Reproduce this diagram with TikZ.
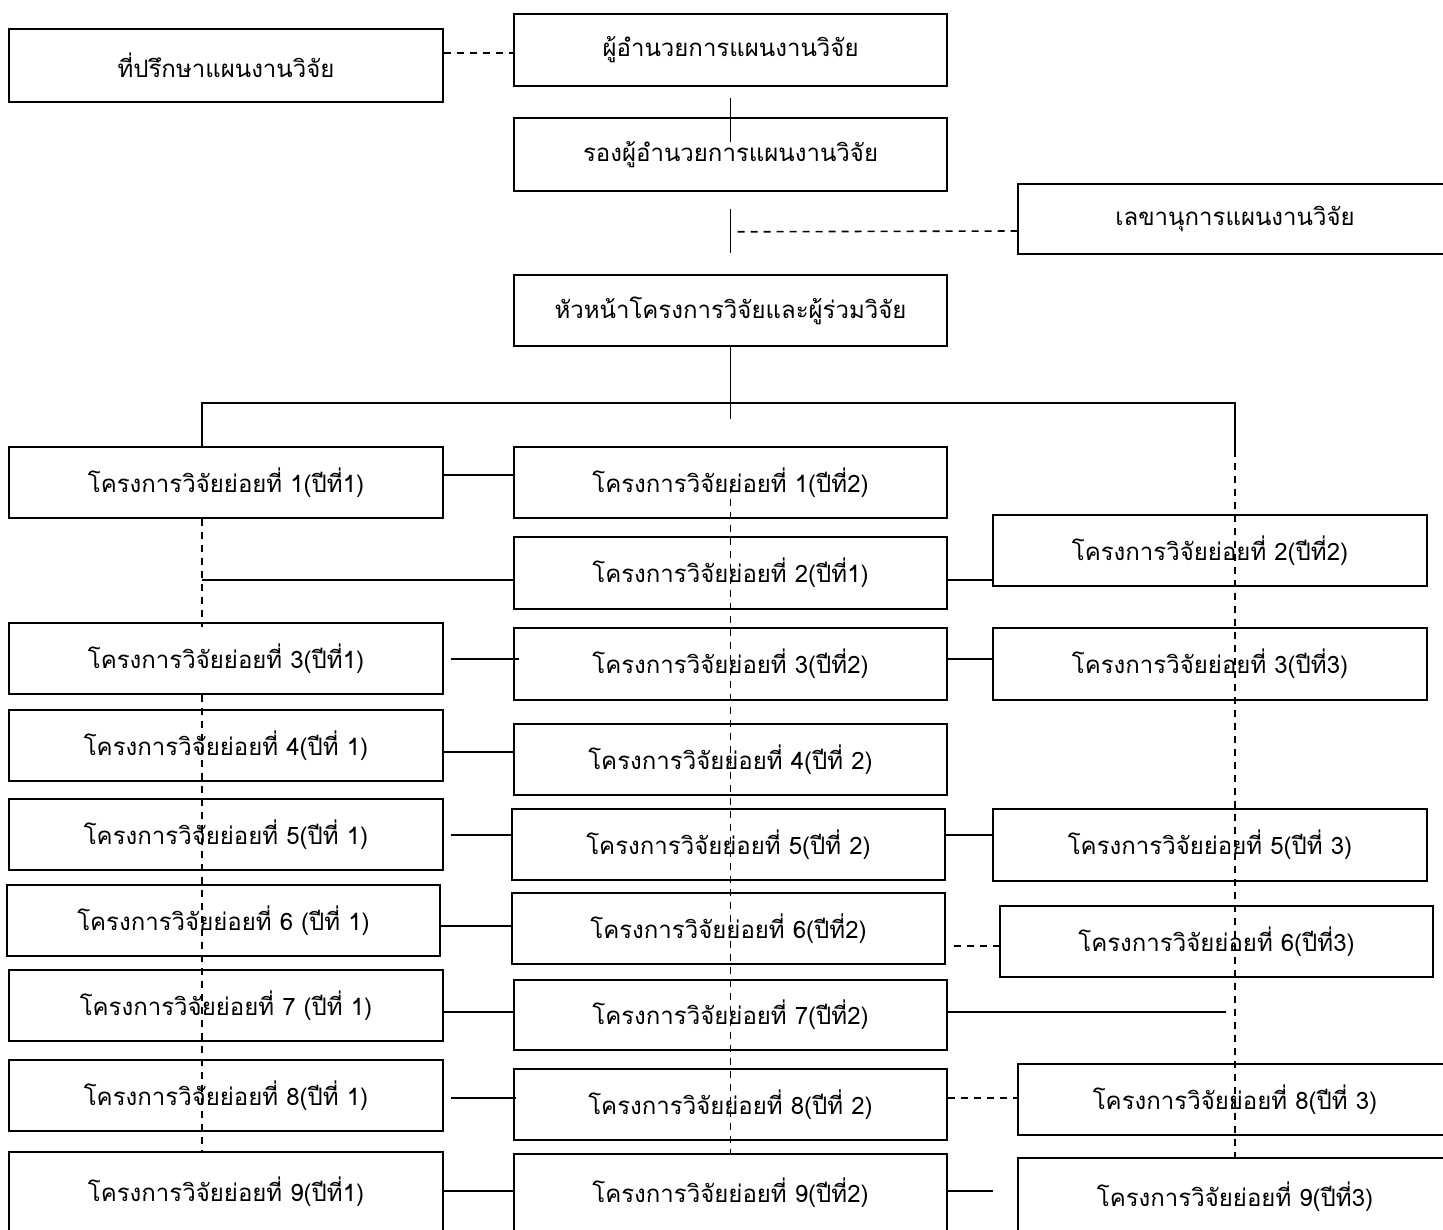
\documentclass[tikz,border=0pt]{standalone}
\usepackage{fontspec}
\newfontfamily\thaifont[Script=Thai]{Loma}
\usetikzlibrary{calc}
\tikzset{
  box/.style={draw, line width=1.6pt, fill=white, inner sep=0pt, minimum width=433pt, minimum height=71pt, font=\thaifont\fontsize{24}{28}\selectfont},
  conn/.style={line width=1.6pt},
  dconn/.style={line width=1.6pt, dash pattern=on 7pt off 6pt},
}
\begin{document}
\begin{tikzpicture}[x=1pt,y=-1pt]
\useasboundingbox (0,0) rectangle (1443,1230);
% top part
\node[box, minimum width=434pt, minimum height=73pt] (A) at (226,65.5) {ที่ปรึกษาแผนงานวิจัย};
\node[box, minimum height=72pt] (B) at (730.5,50) {ผู้อำนวยการแผนงานวิจัย};
\node[box, minimum height=73pt] (C) at (730.5,154.5) {รองผู้อำนวยการแผนงานวิจัย};
\node[box, minimum width=434pt, minimum height=70pt] (D) at (1235,219) {เลขานุการแผนงานวิจัย};
\node[box] (E) at (730.5,310.5) {หัวหน้าโครงการวิจัยและผู้ร่วมวิจัย};
% column 1
\node[box, minimum width=434pt] (P11) at (226,482.5) {โครงการวิจัยย่อยที่ 1(ปีที่1)};
\node[box, minimum width=434pt] (P31) at (226,658.5) {โครงการวิจัยย่อยที่ 3(ปีที่1)};
\node[box, minimum width=434pt] (P41) at (226,745.5) {โครงการวิจัยย่อยที่ 4(ปีที่ 1)};
\node[box, minimum width=434pt] (P51) at (226,834.5) {โครงการวิจัยย่อยที่ 5(ปีที่ 1)};
\node[box, minimum width=433pt] (P61) at (223.5,920.5) {โครงการวิจัยย่อยที่ 6 (ปีที่ 1)};
\node[box, minimum width=434pt] (P71) at (226,1005.5) {โครงการวิจัยย่อยที่ 7 (ปีที่ 1)};
\node[box, minimum width=434pt] (P81) at (226,1095.5) {โครงการวิจัยย่อยที่ 8(ปีที่ 1)};
\node[box, minimum width=434pt, minimum height=80pt] (P91) at (226,1192) {โครงการวิจัยย่อยที่ 9(ปีที่1)};
% column 2
\node[box] (P12) at (730.5,482.5) {โครงการวิจัยย่อยที่ 1(ปีที่2)};
\node[box, minimum height=72pt] (P21) at (730.5,573) {โครงการวิจัยย่อยที่ 2(ปีที่1)};
\node[box, minimum height=72pt] (P32) at (730.5,664) {โครงการวิจัยย่อยที่ 3(ปีที่2)};
\node[box] (P42) at (730.5,759.5) {โครงการวิจัยย่อยที่ 4(ปีที่ 2)};
\node[box] (P52) at (728.5,844.5) {โครงการวิจัยย่อยที่ 5(ปีที่ 2)};
\node[box] (P62) at (728.5,928.5) {โครงการวิจัยย่อยที่ 6(ปีที่2)};
\node[box, minimum height=70pt] (P72) at (730.5,1015) {โครงการวิจัยย่อยที่ 7(ปีที่2)};
\node[box] (P82) at (730.5,1104.5) {โครงการวิจัยย่อยที่ 8(ปีที่ 2)};
\node[box, minimum height=78pt] (P92) at (730.5,1193) {โครงการวิจัยย่อยที่ 9(ปีที่2)};
% column 3
\node[box, minimum width=434pt] (P22) at (1210,550.5) {โครงการวิจัยย่อยที่ 2(ปีที่2)};
\node[box, minimum width=434pt, minimum height=72pt] (P33) at (1210,664) {โครงการวิจัยย่อยที่ 3(ปีที่3)};
\node[box, minimum width=434pt, minimum height=72pt] (P53) at (1210,845) {โครงการวิจัยย่อยที่ 5(ปีที่ 3)};
\node[box] (P63) at (1216.5,941.5) {โครงการวิจัยย่อยที่ 6(ปีที่3)};
\node[box, minimum width=434pt] (P83) at (1235,1099.5) {โครงการวิจัยย่อยที่ 8(ปีที่ 3)};
\node[box, minimum width=434pt, minimum height=78pt] (P93) at (1235,1197) {โครงการวิจัยย่อยที่ 9(ปีที่3)};
% helper coordinates
\coordinate (HL) at (202,403);
\coordinate (HR) at (1235,403);
\coordinate (E7) at (1226,1012);
\coordinate (E9) at (993,1191);
% top connectors
\draw[dconn] ($(A.east)+(0,-12.5)$) -- ($(B.west)+(0,3)$);
\draw[conn] ($(B.south)+(0,11)$) -- ($(C.north)+(0,25)$);
\draw[conn] ($(C.south)+(0,17)$) -- ($(E.north)+(0,-21)$);
\draw[dconn] ($(C.south)+(7,40)$) -- ($(D.west)+(0,12)$);
\draw[conn] (E.south) -- ($(E.south)+(0,72)$);
\draw[conn] (P11.north -| HL) -- (HL) -- (HR) -- ($(HR)+(0,47)$);
% vertical dashed spines
\draw[dconn] (P11.south -| HL) -- ($(P31.north -| HL)+(0,5)$);
\draw[dconn] (P31.south -| HL) -- (P91.north -| HL);
\draw[dconn] ($(P12.center)+(0,3)$) -- (P92.north);
\draw[dconn] ($(HR)+(0,47)$) -- (P93.north);
% row connectors
\draw[conn] ($(P11.east)+(0,-7.5)$) -- ($(P12.west)+(0,-7.5)$);
\draw[conn] ($(HL)+(0,177)$) -- ($(P21.west)+(0,7)$);
\draw[conn] ($(P21.east)+(0,7)$) -- ($(P22.west)+(0,29.5)$);
\draw[conn] ($(P31.east)+(7,0.5)$) -- ($(P32.west)+(6,-5)$);
\draw[conn] ($(P32.east)+(-2,-5)$) -- ($(P33.west)+(0,-5)$);
\draw[conn] ($(P41.east)+(0,6.5)$) -- ($(P42.west)+(0,-7.5)$);
\draw[conn] ($(P51.east)+(7,0.5)$) -- ($(P52.west)+(0,-9.5)$);
\draw[conn] ($(P52.east)+(0,-9.5)$) -- ($(P53.west)+(0,-10)$);
\draw[conn] ($(P61.east)+(0,5.5)$) -- ($(P62.west)+(0,-2.5)$);
\draw[dconn] ($(P62.east)+(8,17.5)$) -- ($(P63.west)+(0,4.5)$);
\draw[conn] ($(P71.east)+(0,6.5)$) -- ($(P72.west)+(0,-3)$);
\draw[conn] ($(P72.east)+(0,-3)$) -- (E7);
\draw[conn] ($(P81.east)+(7,2.5)$) -- ($(P82.west)+(3,-6.5)$);
\draw[dconn] ($(P82.east)+(0,-6.5)$) -- ($(P83.west)+(0,-1.5)$);
\draw[conn] ($(P91.east)+(0,-1)$) -- ($(P92.west)+(0,-2)$);
\draw[conn] ($(P92.east)+(0,-2)$) -- (E9);
\end{tikzpicture}
\end{document}
